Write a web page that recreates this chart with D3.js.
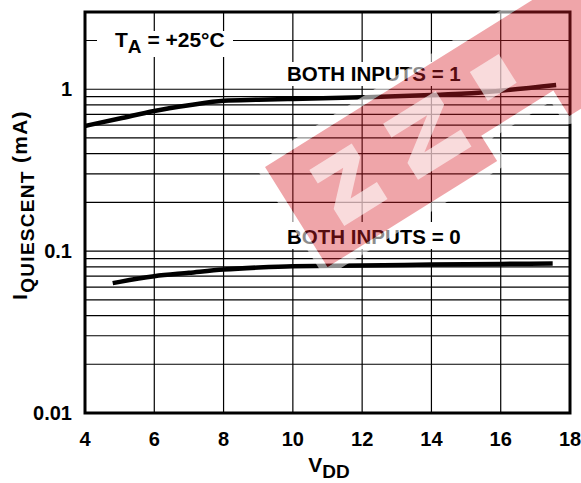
<!DOCTYPE html>
<html>
<head>
<meta charset="utf-8">
<script src="https://cdn.jsdelivr.net/npm/d3@7"></script>
<style>
  body { margin: 0; background: #fff; }
  text { font-family: "Liberation Sans", Arial, sans-serif; font-weight: bold; fill: #000; }
</style>
</head>
<body>
<script>
// supply voltage (V) and quiescent current (mA)
var vdd1 = [4, 5, 6, 7, 8, 9, 10, 12, 14, 15, 16, 17.6];
var iq1 = [0.593, 0.659, 0.734, 0.796, 0.85, 0.862, 0.871, 0.892, 0.92, 0.94, 0.98, 1.063];

var vdd0 = [4.8, 5, 6, 7, 8, 9, 10, 12, 14, 16, 17.5];
var iq0 = [0.0634, 0.0646, 0.07, 0.0734, 0.0769, 0.0792, 0.0807, 0.0814, 0.0826, 0.0834, 0.0838];

var xTicks = [4, 6, 8, 10, 12, 14, 16, 18];
var yTicks = [0.01, 0.1, 1];
var yTickLabels = ['0.01', '0.1', '1'];
var yGrid = [0.02, 0.03, 0.04, 0.05, 0.06, 0.07, 0.08, 0.09,
             0.1, 0.2, 0.3, 0.4, 0.5, 0.6, 0.7, 0.8, 0.9, 1, 2];

var svg = d3.select('body').append('svg')
    .attr('width', 581)
    .attr('height', 483);

var x = d3.scaleLinear().domain([4, 18]).range([85, 570]);
var y = d3.scaleLog().domain([0.01, 3]).range([413, 12]);

// grid
svg.append('g').selectAll('line').data(yGrid).enter().append('line')
    .attr('x1', x(4)).attr('x2', x(18))
    .attr('y1', function(d) { return y(d); })
    .attr('y2', function(d) { return y(d); })
    .attr('stroke', '#000').attr('stroke-width', 1.2);

svg.append('g').selectAll('line').data(xTicks.slice(1, -1)).enter().append('line')
    .attr('x1', function(d) { return x(d); })
    .attr('x2', function(d) { return x(d); })
    .attr('y1', y(3)).attr('y2', y(0.01))
    .attr('stroke', '#000').attr('stroke-width', 1.2);

// white boxes behind the labels
svg.append('rect').attr('x', 97).attr('y', 31).attr('width', 136).attr('height', 26).attr('fill', '#fff');
svg.append('rect').attr('x', 283).attr('y', 62).attr('width', 186).attr('height', 24).attr('fill', '#fff');
svg.append('rect').attr('x', 283).attr('y', 222).attr('width', 186).attr('height', 27).attr('fill', '#fff');

// tick labels
svg.append('g').selectAll('text').data(xTicks).enter().append('text')
    .attr('x', function(d) { return x(d); })
    .attr('y', 446)
    .attr('text-anchor', 'middle')
    .style('font-size', '20px')
    .text(function(d) { return d; });

svg.append('g').selectAll('text').data(yTicks).enter().append('text')
    .attr('x', 72)
    .attr('y', function(d) { return y(d) + 7; })
    .attr('text-anchor', 'end')
    .style('font-size', '20px')
    .text(function(d, i) { return yTickLabels[i]; });

// axis titles
var yt = svg.append('text')
    .attr('transform', 'translate(27,205) rotate(-90)')
    .attr('text-anchor', 'middle')
    .style('font-size', '21px')
    .style('letter-spacing', '1.3px');
yt.append('tspan').text('I');
yt.append('tspan').attr('dy', 7).style('font-size', '19px').text('QUIESCENT');
yt.append('tspan').attr('dy', -7).text(' (mA)');

var xt = svg.append('text')
    .attr('x', 329).attr('y', 472)
    .attr('text-anchor', 'middle')
    .style('font-size', '21px');
xt.append('tspan').text('V');
xt.append('tspan').attr('dy', 6).style('font-size', '19px').text('DD');

// annotations
var ta = svg.append('text').attr('x', 115).attr('y', 47).style('font-size', '21px');
ta.append('tspan').text('T');
ta.append('tspan').attr('dy', 6).style('font-size', '19px').text('A');
ta.append('tspan').attr('dy', -6).text(' = +25\u00B0C');

svg.append('text').attr('x', 287).attr('y', 81).style('font-size', '20.5px').text('BOTH INPUTS = 1');
svg.append('text').attr('x', 287).attr('y', 244).style('font-size', '20.5px').text('BOTH INPUTS = 0');

// curves
var line = d3.line()
    .x(function(d) { return x(d[0]); })
    .y(function(d) { return y(d[1]); })
    .curve(d3.curveMonotoneX);

svg.append('path')
    .attr('d', line(d3.zip(vdd1, iq1)))
    .attr('fill', 'none').attr('stroke', '#000').attr('stroke-width', 4.5);

svg.append('path')
    .attr('d', line(d3.zip(vdd0, iq0)))
    .attr('fill', 'none').attr('stroke', '#000').attr('stroke-width', 4.5);

// frame
svg.append('rect')
    .attr('x', x(4)).attr('y', y(3))
    .attr('width', x(18) - x(4)).attr('height', y(0.01) - y(3))
    .attr('fill', 'none').attr('stroke', '#000').attr('stroke-width', 3);

// watermark band over the plot (drawn in its own rotated frame)
var band = 'M0,0 L480,0 L480,118 L285,118 L285,88 L200,88 L200,118 L0,118 Z';
function zee(a, w) {
  return 'M' + a + ',26 L' + (a + w) + ',26 L' + (a + w) + ',42 L' + (a + 20) + ',72 L' +
    (a + w + 1) + ',72 L' + (a + w + 1) + ',92 L' + a + ',92 L' + a + ',72 L' +
    (a + w - 20) + ',42 L' + a + ',42 Z';
}

var defs = svg.append('defs');
var mask = defs.append('mask').attr('id', 'wmHalo')
    .attr('maskUnits', 'userSpaceOnUse')
    .attr('x', -100).attr('y', -300).attr('width', 800).attr('height', 700);
mask.append('rect').attr('x', -100).attr('y', -300).attr('width', 800).attr('height', 700).attr('fill', '#fff');
mask.append('path').attr('d', band).attr('fill', '#000');

var wm = svg.append('g').attr('transform', 'translate(265,167) rotate(-32)');
wm.append('path').attr('d', band)
    .attr('mask', 'url(#wmHalo)')
    .attr('fill', 'none').attr('stroke', '#fff').attr('stroke-opacity', 0.55)
    .attr('stroke-width', 16).attr('stroke-linejoin', 'round');
wm.append('path').attr('d', band)
    .attr('fill', 'rgb(215,30,40)').attr('fill-opacity', 0.4);
wm.append('path').attr('d', zee(36, 50)).attr('fill', '#fff').attr('fill-opacity', 0.6);
wm.append('path').attr('d', zee(123, 62)).attr('fill', '#fff').attr('fill-opacity', 0.6);
wm.append('rect').attr('x', 224).attr('y', 28).attr('width', 34).attr('height', 34)
    .attr('fill', '#fff').attr('fill-opacity', 0.6);
</script>
</body>
</html>
